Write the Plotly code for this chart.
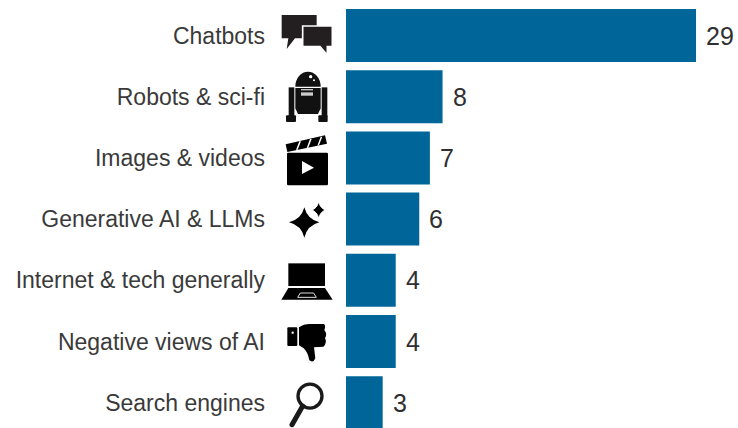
import base64
import plotly.graph_objects as go

categories = ["Chatbots", "Robots & sci-fi", "Images & videos", "Generative AI & LLMs",
              "Internet & tech generally", "Negative views of AI", "Search engines"]
values = [29.0, 8.0, 6.95, 6.07, 4.12, 4.12, 3.04]
value_labels = ["29", "8", "7", "6", "4", "4", "3"]

BAR = "#006699"
TEXT = "#2f2f2f"
FONT = "Liberation Sans"

# Decorative icons (SVG, in a 174x174 local box per icon)
def box(y0):
    return f"24 {y0} 174 174"

icons = [
    (box(19.5),
     '<path d="M35 45H140V115H75L50 147L55 115H35Z" fill="#231f20"/>'
     '<path d="M98 78H187V140H172V165L150 140H98Z" fill="#231f20" stroke="#fff" stroke-width="5"/>'),
    (box(203),
     '<path d="M76 260A38 45 0 0 1 152 260Z" fill="#111"/>'
     '<path d="M76 264H152V325L144 342H84L76 325Z" fill="#111"/>'
     '<rect x="56" y="262" width="17" height="86" fill="#111"/>'
     '<rect x="155" y="262" width="17" height="86" fill="#111"/>'
     '<rect x="48" y="346" width="30" height="20" rx="3" fill="#111"/>'
     '<rect x="145" y="346" width="28" height="20" rx="3" fill="#111"/>'
     '<circle cx="122" cy="230" r="5" fill="#fff"/><circle cx="132" cy="241" r="3" fill="#fff"/>'
     '<rect x="93" y="267" width="36" height="4" fill="#ccc"/>'
     '<rect x="93" y="277" width="36" height="10" fill="#ccc"/>'),
    (box(386.7),
     '<rect x="51" y="458" width="123" height="98" rx="4" fill="#000"/>'
     '<path d="M47 433L165 406L171 431L52 456Z" fill="#000"/>'
     '<path d="M78 450L88 424H93L83 449ZM110 444L120 417H125L115 443ZM142 437L152 410H157L147 436Z" fill="#fff"/>'
     '<path d="M96 483L132 503L96 522Z" fill="#fff"/>'),
    (box(0.3),
     '<path d="M103 52Q112 88 148 97Q112 106 103 143Q94 106 57 97Q94 88 103 52Z" fill="#000"/>'
     '<path d="M146 35Q151 55 167 60Q151 65 146 85Q141 65 125 60Q141 55 146 35Z" fill="#000" stroke="#fff" stroke-width="3"/>'),
    (box(183.9),
     '<rect x="55" y="220" width="110" height="68" fill="#000"/>'
     '<path d="M55 294H165L188 329H34Z" fill="#000"/>'
     '<path d="M83 322L91 309H131L139 322Z" fill="none" stroke="#ddd" stroke-width="3"/>'),
    (box(367.5),
     '<rect x="52" y="412" width="30" height="56" rx="3" fill="#000"/>'
     '<circle cx="68" cy="428" r="3.5" fill="#fff"/>'
     '<path d="M87 412Q100 402 120 402H162Q168 407 163 421Q173 431 165 445Q173 458 160 470L132 472'
     'L136 505Q130 520 118 511Q113 484 100 474L87 466Z" fill="#000"/>'),
    (box(551),
     '<circle cx="120" cy="618" r="36" fill="none" stroke="#1a1a1a" stroke-width="10"/>'
     '<path d="M98 648L66 704" stroke="#1a1a1a" stroke-width="15" stroke-linecap="round"/>'),
]

def uri(view, body):
    svg = f'<svg xmlns="http://www.w3.org/2000/svg" viewBox="{view}" width="232" height="232">{body}</svg>'
    return "data:image/svg+xml;base64," + base64.b64encode(svg.encode()).decode()

fig = go.Figure(go.Bar(
    x=values, y=categories, orientation="h",
    marker=dict(color=BAR, line=dict(width=0)),
    hoverinfo="skip",
))

PX_PER_UNIT = 12.07
PLOT_W, PLOT_H = 392, 428
Y_TOP, Y_BOTTOM = -0.58, 6.413

images = [dict(source=uri(v, b), xref="paper", yref="paper",
               x=-68 / PLOT_W, y=1 - (i - Y_TOP) / (Y_BOTTOM - Y_TOP),
               sizex=58 / PLOT_W, sizey=58 / PLOT_H,
               xanchor="left", yanchor="middle", sizing="stretch", layer="above")
          for i, (v, b) in enumerate(icons)]

annotations = [dict(x=val, y=cat, xref="x", yref="y", text=lab, showarrow=False,
                    xanchor="left", yanchor="middle", xshift=8, yshift=0,
                    font=dict(family=FONT, size=25, color=TEXT))
               for cat, val, lab in zip(categories, values, value_labels)]

fig.update_layout(
    width=738, height=428,
    margin=dict(l=346, r=0, t=0, b=0, pad=0),
    paper_bgcolor="white", plot_bgcolor="white",
    bargap=0.134, showlegend=False, images=images, annotations=annotations,
    font=dict(family=FONT, color=TEXT),
    xaxis=dict(range=[0, PLOT_W / PX_PER_UNIT], visible=False, fixedrange=True),
    yaxis=dict(range=[Y_BOTTOM, Y_TOP], type="category", categoryorder="array", categoryarray=categories,
               showgrid=False, showline=False, zeroline=False, ticks="",
               ticklabelstandoff=80, tickfont=dict(family=FONT, size=23, color="#3a3a3a"), fixedrange=True),
)
fig.write_html("out.html", config=dict(displayModeBar=False),
               post_script="document.body.style.margin='0';document.body.style.overflow='hidden';")
